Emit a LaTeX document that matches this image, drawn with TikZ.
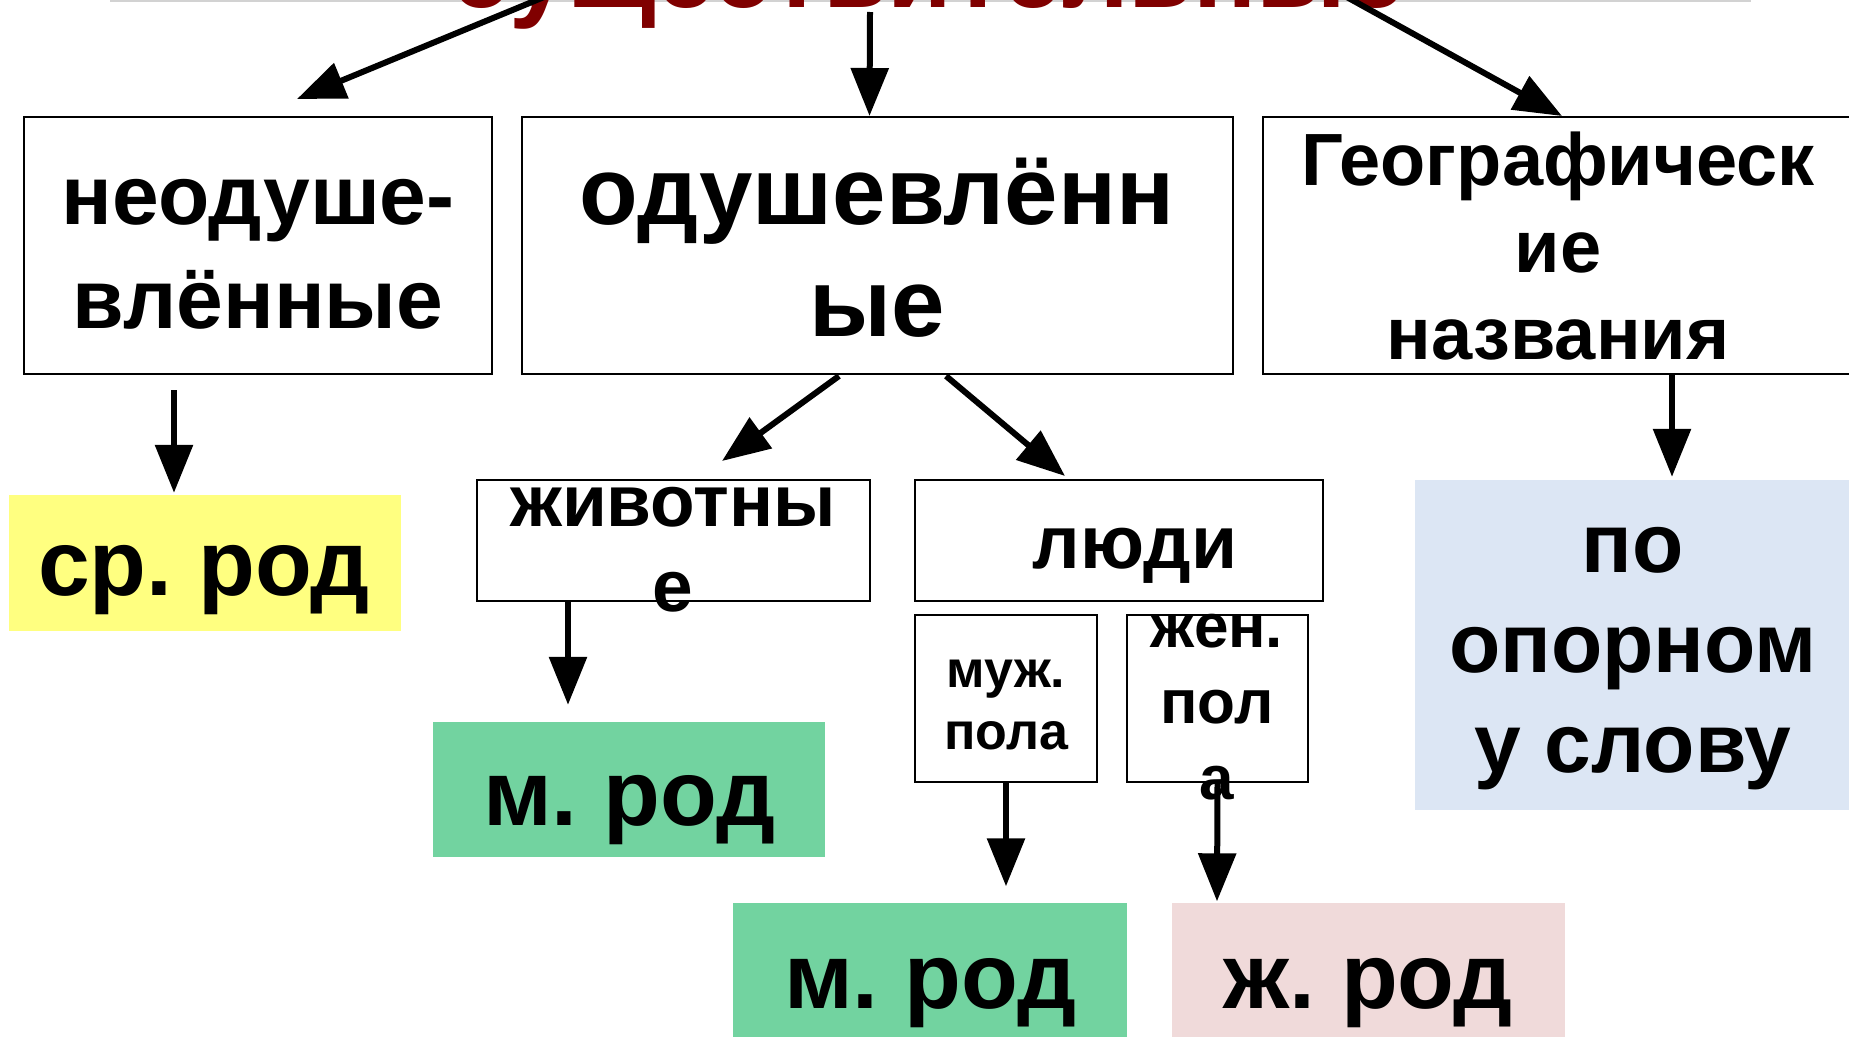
\documentclass[tikz,border=0pt]{standalone}
\usepackage{fontspec}
\setmainfont{Liberation Sans}
\usetikzlibrary{arrows.meta}
\definecolor{titlered}{RGB}{128,0,0}
\definecolor{srcol}{RGB}{255,255,128}
\definecolor{mcol}{RGB}{114,211,160}
\definecolor{zhcol}{RGB}{240,218,218}
\definecolor{pocol}{RGB}{220,230,244}
\definecolor{rulegray}{RGB}{210,210,210}
\newcommand\fs[2]{\fontsize{#1}{#2}\selectfont\bfseries}
\newcommand\rows[1]{\begin{tabular}[t]{@{}c@{}}#1\end{tabular}}
\frenchspacing

\begin{document}
\begin{tikzpicture}[x=1pt,y=-1pt,
  box/.style={draw=black,line width=2pt,inner sep=0pt},
  colbox/.style={fill=#1,inner sep=0pt},
  lbl/.style={anchor=base,inner sep=0pt},
  arr/.style={line width=6pt,-{Triangle[length=48pt,width=37pt]}}]
\useasboundingbox (0,0) rectangle (1849,1036);
\clip (0,0) rectangle (1849,1036);
\draw[rulegray,line width=2pt] (110,1) -- (1751,1);
\node[lbl,text=titlered,font=\fs{105}{126}] (T) at (928,7) {существительные};
% first row
\node[box,minimum width=468pt,minimum height=257pt] (A) at (258,245.5) {};
\node[box,minimum width=711pt,minimum height=257pt] (B) at (877.5,245.5) {};
\node[box,minimum width=594pt,minimum height=257pt] (C) at (1560,245.5) {};
% second row
\node[colbox=srcol,minimum width=392pt,minimum height=136pt] (D) at (205,563) {};
\node[box,minimum width=393pt,minimum height=121pt] (E) at (673.5,540.5) {};
\node[box,minimum width=408pt,minimum height=121pt] (F) at (1119,540.5) {};
\node[box,minimum width=182pt,minimum height=167pt] (G) at (1006,698.5) {};
\node[box,minimum width=181pt,minimum height=167pt] (H) at (1217.5,698.5) {};
\node[colbox=pocol,minimum width=436pt,minimum height=330pt] (I) at (1633,645) {};
% third row
\node[colbox=mcol,minimum width=392pt,minimum height=135pt] (J) at (629,789.5) {};
\node[colbox=mcol,minimum width=394pt,minimum height=137pt] (K) at (930,971) {};
\node[colbox=zhcol,minimum width=393pt,minimum height=137pt] (L) at (1368.5,971) {};
% arrows
\path[arr] ([shift={(-367,-17)}]T.base) edge ([shift={(39,-17)}]A.north);
\path[arr] ([shift={(-58,5)}]T.base) edge ([xshift=-8pt]B.north);
\path[arr] ([shift={(406,-17)}]T.base) edge ([xshift=2pt]C.north);
\path[arr] ([shift={(-84,15)}]A.south) edge ([shift={(-31,-2)}]D.north);
\path[arr] ([shift={(-38.5,1)}]B.south) edge ([shift={(48.5,-18)}]E.north);
\path[arr] ([shift={(68.5,1)}]B.south) edge ([shift={(-54,-3)}]F.north);
\path[arr] ([xshift=112pt]C.south) edge ([shift={(39,-3)}]I.north);
\path[arr] ([xshift=-105.5pt]E.south) edge ([shift={(-61,-17)}]J.north);
\path[arr] (G.south) edge ([shift={(76,-16)}]K.north);
\path[arr] (H.south) edge ([shift={(-151.5,-1)}]L.north);
% texts
\node[lbl,font=\fs{84}{104}] (a) at (258,224) {\rows{неодуше-\\влённые}};
\node[lbl,font=\fs{96}{112}] (b) at (877,224) {\rows{одушевлённ\\ые}};
\node[lbl,font=\fs{74}{87}] (c) at (1558,185) {\rows{Географическ\\ие\\названия}};
\node[lbl,font=\fs{93}{112}] (d) at (204,595) {ср. род};
\node[lbl,font=\fs{73}{85}] (e) at (673,526) {\rows{животны\\е}};
\node[lbl,font=\fs{75}{90}] (f) at (1135,568) {люди};
\node[lbl,font=\fs{52}{62}] (g) at (1006,687) {\rows{муж.\\пола}};
\node[lbl,font=\fs{62}{76}] (h) at (1217,647) {\rows{жен.\\пол\\а}};
\node[lbl,font=\fs{84}{100}] (i) at (1633,572) {\rows{по\\опорном\\у слову}};
\node[lbl,font=\fs{93}{112}] (j) at (629,825) {м. род};
\node[lbl,font=\fs{93}{112}] (k) at (930,1008) {м. род};
\node[lbl,font=\fs{93}{112}] (l) at (1368,1008) {ж. род};
\end{tikzpicture}
\end{document}
